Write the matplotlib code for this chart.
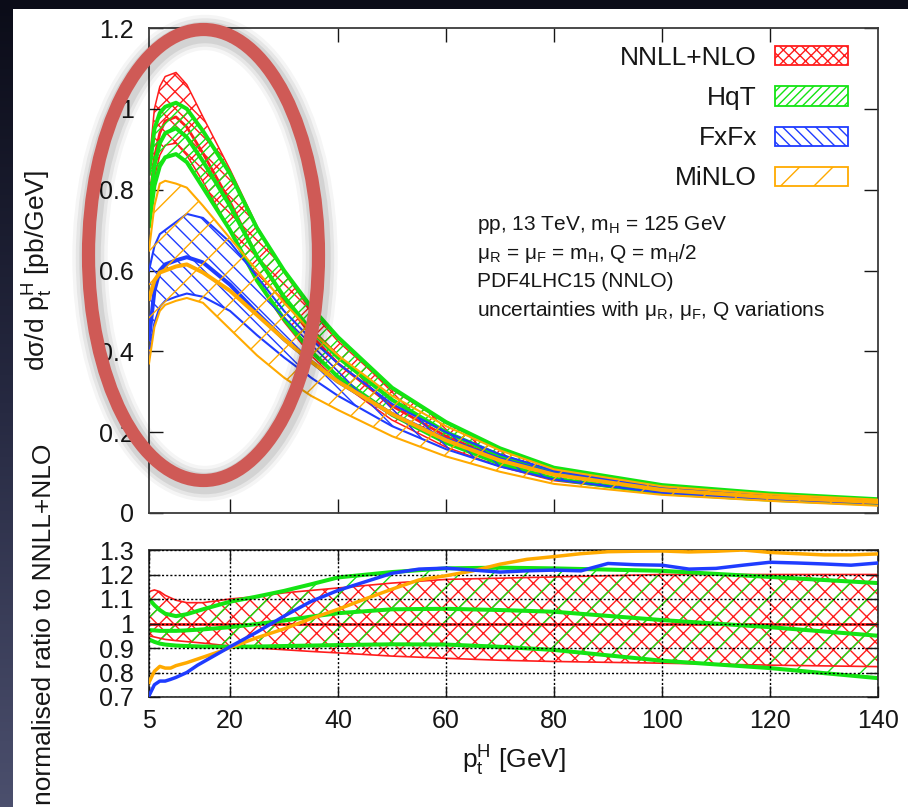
import numpy as np
import matplotlib
matplotlib.use("Agg")
import matplotlib.pyplot as plt
from matplotlib.patches import Ellipse, Rectangle
from matplotlib.colors import LinearSegmentedColormap
from matplotlib.ticker import FuncFormatter

plt.rcParams['font.family'] = ['Liberation Sans', 'DejaVu Sans']
plt.rcParams['mathtext.fontset'] = 'custom'
plt.rcParams['mathtext.rm'] = 'Liberation Sans'
plt.rcParams['mathtext.it'] = 'Liberation Sans:italic'
plt.rcParams['mathtext.bf'] = 'Liberation Sans:bold'
plt.rcParams['hatch.linewidth'] = 1.0

# --- spectrum dsigma/dpt [pb/GeV], bands = scale variations ---
pt_top = [5, 6, 7, 8, 10, 12, 15, 20, 25, 30, 35, 40, 50, 60, 70, 80, 100, 120, 140]

nnll_hi  = [0.86, 1.00, 1.055, 1.08, 1.09, 1.06, 0.98, 0.85, 0.71, 0.595, 0.50, 0.425, 0.305, 0.222, 0.157, 0.11, 0.068, 0.047, 0.033]
nnll_mid = [0.76, 0.88, 0.94, 0.97, 0.98, 0.955, 0.89, 0.77, 0.635, 0.53, 0.44, 0.37, 0.265, 0.19, 0.135, 0.095, 0.058, 0.040, 0.028]
nnll_lo  = [0.72, 0.83, 0.885, 0.91, 0.915, 0.885, 0.82, 0.70, 0.572, 0.473, 0.39, 0.326, 0.23, 0.163, 0.115, 0.08, 0.049, 0.033, 0.023]

hqt_hi  = [0.84, 0.95, 0.99, 1.005, 1.015, 1.00, 0.945, 0.84, 0.705, 0.60, 0.51, 0.435, 0.31, 0.225, 0.16, 0.112, 0.069, 0.048, 0.034]
hqt_mid = [0.74, 0.86, 0.915, 0.94, 0.952, 0.93, 0.87, 0.76, 0.635, 0.535, 0.452, 0.385, 0.28, 0.20, 0.142, 0.10, 0.059, 0.039, 0.027]
hqt_lo  = [0.71, 0.81, 0.858, 0.88, 0.888, 0.868, 0.805, 0.70, 0.575, 0.48, 0.40, 0.337, 0.243, 0.174, 0.122, 0.085, 0.049, 0.033, 0.022]

fxfx_hi  = [0.60, 0.66, 0.69, 0.70, 0.72, 0.74, 0.73, 0.67, 0.585, 0.50, 0.43, 0.37, 0.27, 0.20, 0.145, 0.105, 0.062, 0.043, 0.030]
fxfx_mid = [0.43, 0.55, 0.60, 0.615, 0.625, 0.633, 0.62, 0.565, 0.495, 0.43, 0.375, 0.325, 0.245, 0.182, 0.133, 0.097, 0.058, 0.040, 0.028]
fxfx_lo  = [0.39, 0.47, 0.51, 0.525, 0.535, 0.543, 0.535, 0.50, 0.44, 0.385, 0.335, 0.29, 0.215, 0.158, 0.115, 0.083, 0.050, 0.034, 0.023]

minlo_hi  = [0.65, 0.76, 0.815, 0.822, 0.815, 0.805, 0.76, 0.68, 0.60, 0.52, 0.45, 0.39, 0.29, 0.215, 0.155, 0.108, 0.066, 0.046, 0.033]
minlo_mid = [0.53, 0.575, 0.595, 0.60, 0.61, 0.615, 0.595, 0.55, 0.49, 0.43, 0.375, 0.325, 0.245, 0.18, 0.13, 0.095, 0.057, 0.039, 0.027]
minlo_lo  = [0.37, 0.46, 0.50, 0.515, 0.525, 0.532, 0.52, 0.455, 0.39, 0.335, 0.29, 0.255, 0.19, 0.14, 0.102, 0.072, 0.045, 0.030, 0.018]

# --- shapes normalised to NNLL+NLO central ---
nnll_r_hi  = [1.13, 1.137, 1.13, 1.115, 1.095, 1.085, 1.085, 1.10, 1.11, 1.125, 1.135, 1.145, 1.165, 1.18, 1.185, 1.19, 1.20, 1.20, 1.20]
nnll_r_mid = [1.0] * len(pt_top)
nnll_r_lo  = [0.95, 0.945, 0.94, 0.935, 0.93, 0.926, 0.92, 0.908, 0.90, 0.893, 0.886, 0.88, 0.867, 0.858, 0.85, 0.845, 0.838, 0.83, 0.824]

hqt_r_hi  = [1.10, 1.075, 1.055, 1.04, 1.03, 1.038, 1.058, 1.089, 1.11, 1.133, 1.16, 1.188, 1.21, 1.225, 1.228, 1.225, 1.215, 1.19, 1.165]
hqt_r_mid = [0.973, 0.972, 0.97, 0.97, 0.97, 0.972, 0.976, 0.985, 0.998, 1.012, 1.028, 1.042, 1.058, 1.06, 1.055, 1.048, 1.014, 0.985, 0.95]
hqt_r_lo  = [0.935, 0.925, 0.918, 0.914, 0.91, 0.908, 0.906, 0.905, 0.906, 0.908, 0.91, 0.912, 0.915, 0.914, 0.905, 0.892, 0.848, 0.818, 0.777]

pt_ratio = [5, 6, 7, 8, 9, 10, 12, 14, 16, 18, 20, 25, 30, 35, 40, 45, 50, 55, 60, 65,
            70, 75, 80, 85, 90, 95, 100, 105, 110, 115, 120, 125, 130, 135, 140]
fxfx_ratio = [0.705, 0.75, 0.765, 0.765, 0.772, 0.78, 0.80, 0.83, 0.855, 0.88, 0.905, 0.965, 1.03, 1.09,
              1.135, 1.17, 1.205, 1.222, 1.226, 1.218, 1.21, 1.215, 1.218, 1.215, 1.245, 1.24, 1.238,
              1.222, 1.225, 1.238, 1.25, 1.247, 1.243, 1.238, 1.247]
minlo_ratio = [0.76, 0.805, 0.825, 0.818, 0.818, 0.828, 0.84, 0.855, 0.87, 0.885, 0.902, 0.942, 0.978, 1.02,
               1.058, 1.10, 1.14, 1.178, 1.195, 1.215, 1.242, 1.262, 1.273, 1.285, 1.293, 1.295, 1.296,
               1.292, 1.295, 1.30, 1.29, 1.285, 1.28, 1.28, 1.284]

names = ['NNLL+NLO', 'HqT', 'FxFx', 'MiNLO']

RED, GREEN, BLUE, ORANGE = '#ff1c1c', '#14e414', '#1f3cff', '#ffaa00'
INK = '#161616'
W, H = 908, 807

fig = plt.figure(figsize=(W / 100, H / 100), dpi=100)

# dark slide backdrop with the white page on top
bg = fig.add_axes([0, 0, 1, 1])
slide = LinearSegmentedColormap.from_list('slide', ['#0b0c18', '#262941', '#4b4f6d'])
bg.imshow(np.linspace(0, 1, 256)[:, None], cmap=slide, extent=[0, 1, 0, 1], aspect='auto')
bg.add_patch(Rectangle((13 / W, 0), 1, 1 - 9 / H, facecolor='white', edgecolor='none'))
bg.set_xlim(0, 1)
bg.set_ylim(0, 1)
bg.axis('off')

ax = fig.add_axes([149 / W, 1 - 513 / H, 729 / W, 485 / H])
rx = fig.add_axes([149 / W, 1 - 697 / H, 729 / W, 147 / H])

fmt = FuncFormatter(lambda v, p: f"{v:g}")


def band(axis, x, lo, hi, color, hatch, z):
    axis.fill_between(x, lo, hi, facecolor='none', edgecolor=color, hatch=hatch,
                      linewidth=0, zorder=z)


# upper panel: hatched bands with their three curves
top_sets = [
    (nnll_lo, nnll_mid, nnll_hi, RED, 'xx', (1.1, 2.0, 1.1)),
    (hqt_lo, hqt_mid, hqt_hi, GREEN, '///', (2.9, 2.9, 2.9)),
    (fxfx_lo, fxfx_mid, fxfx_hi, BLUE, '\\\\', (1.5, 2.9, 1.5)),
    (minlo_lo, minlo_mid, minlo_hi, ORANGE, '/', (1.5, 2.9, 1.5)),
]
for k, (lo, mid, hi, col, hatch, lws) in enumerate(top_sets):
    z = 1 + k
    band(ax, pt_top, lo, hi, col, hatch, z)
    for ys, lw in zip((lo, mid, hi), lws):
        ax.plot(pt_top, ys, color=col, lw=lw, zorder=z + 0.5, solid_joinstyle='round')

ax.set_xlim(5, 140)
ax.set_ylim(0, 1.2)
ax.set_xticks([20, 40, 60, 80, 100, 120])
ax.set_yticks([0, 0.2, 0.4, 0.6, 0.8, 1.0, 1.2])
ax.yaxis.set_major_formatter(fmt)
ax.tick_params(direction='in', length=10, width=1, top=True, right=True,
               labelbottom=False, labelsize=18, pad=11, colors=INK)

# legend rows: label to the left of a hatched swatch
legend_hatch = ['xxx', '////', '\\\\\\', '/']
legend_col = [RED, GREEN, BLUE, ORANGE]
for i, (name, col, hatch) in enumerate(zip(names, legend_col, legend_hatch)):
    yc = 0.9423 - i * 0.0825
    ax.add_patch(Rectangle((0.8587, yc - 0.0196), 0.1001, 0.0392, transform=ax.transAxes,
                           facecolor='white', edgecolor=col, hatch=hatch, lw=1.3, zorder=10))
    ax.text(0.834, yc - 0.0186, name, transform=ax.transAxes, ha='right', va='baseline',
            fontsize=19, color=INK, zorder=10)

notes = [
    r'pp, 13 TeV, m$_\mathrm{H}$ = 125 GeV',
    r'μ$_\mathrm{R}$ = μ$_\mathrm{F}$ = m$_\mathrm{H}$, Q = m$_\mathrm{H}$/2',
    'PDF4LHC15 (NNLO)',
    r'uncertainties with μ$_\mathrm{R}$, μ$_\mathrm{F}$, Q variations',
]
for i, line in enumerate(notes):
    ax.text(0.45, 0.5835 - i * 0.0592, line, transform=ax.transAxes, ha='left',
            va='baseline', fontsize=15, color=INK, zorder=10)

# lower panel: ratios
band(rx, pt_top, nnll_r_lo, nnll_r_hi, RED, 'xx', 1)
band(rx, pt_top, hqt_r_lo, hqt_r_hi, GREEN, '/', 1.2)
rx.plot(pt_top, nnll_r_lo, color=RED, lw=1.2, zorder=2)
rx.plot(pt_top, nnll_r_hi, color=RED, lw=1.2, zorder=2)
rx.plot(pt_top, nnll_r_mid, color=RED, lw=2.0, zorder=2)
for ys in (hqt_r_lo, hqt_r_mid, hqt_r_hi):
    rx.plot(pt_top, ys, color=GREEN, lw=2.9, zorder=2.1)
rx.plot(pt_ratio, minlo_ratio, color=ORANGE, lw=2.5, zorder=3)
rx.plot(pt_ratio, fxfx_ratio, color=BLUE, lw=2.5, zorder=3.1)

rx.set_xlim(5, 140)
rx.set_ylim(0.7, 1.3)
rx.set_xticks([5, 20, 40, 60, 80, 100, 120, 140])
rx.set_yticks([0.7, 0.8, 0.9, 1.0, 1.1, 1.2, 1.3])
rx.yaxis.set_major_formatter(fmt)
rx.set_axisbelow(False)
rx.grid(True, color='black', linestyle=(0, (1.5, 1.5)), linewidth=1.0)
rx.tick_params(direction='in', length=8, width=1, top=True, right=True,
               labelsize=18, pad=11, colors=INK)
rx.tick_params(axis='x', pad=9)

for a in (ax, rx):
    for sp in a.spines.values():
        sp.set_color('#3a3a3a')
        sp.set_linewidth(1.3)

fig.text(38 / W, 1 - 271 / H, r'dσ/d p$_\mathrm{t}^\mathrm{H}$ [pb/GeV]', rotation=90,
         ha='center', va='center', fontsize=19, color=INK)
fig.text(44 / W, 1 - 624 / H, 'normalised ratio to NNLL+NLO', rotation=90,
         ha='center', va='center', fontsize=19, color=INK)
fig.text(514 / W, 1 - 761 / H, r'p$_\mathrm{t}^\mathrm{H}$ [GeV]', ha='center', va='center',
         fontsize=19, color=INK)

# highlight ring around the low-pt peak region, with a soft shadow
for extra, alpha in ((16, 0.04), (11, 0.06), (6, 0.08)):
    fig.add_artist(Ellipse((205 / W, 1 - 258 / H), 230 / W, 451 / H, transform=fig.transFigure,
                           fill=False, edgecolor='black', lw=9.5 + extra, alpha=alpha))
fig.add_artist(Ellipse((203.5 / W, 1 - 255 / H), 230 / W, 451 / H, transform=fig.transFigure,
                       fill=False, edgecolor='#cf5a56', lw=9.5))

fig.savefig('out.png', dpi=100)
